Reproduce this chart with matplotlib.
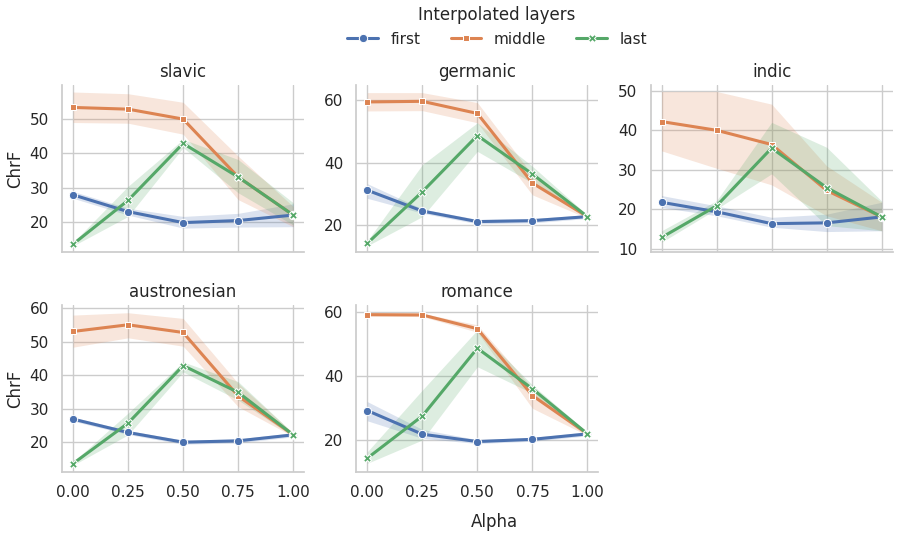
import numpy as np
import matplotlib
matplotlib.use("Agg")
import matplotlib.pyplot as plt
import seaborn as sns

# x values (interpolation weight)
alpha = [0.0, 0.25, 0.5, 0.75, 1.0]
layers = ["first", "middle", "last"]
facets = ["slavic", "germanic", "indic", "austronesian", "romance"]

# mean ChrF per layer, plus lower / upper confidence bounds
slavic_mean = {"first": [27.9, 23.0, 19.8, 20.4, 22.0],
               "middle": [53.4, 52.9, 50.0, 33.1, 22.0],
               "last": [13.5, 26.3, 42.9, 33.1, 22.0]}
slavic_lo = {"first": [26.9, 22.0, 18.2, 18.5, 18.6],
             "middle": [49.0, 48.8, 45.6, 26.5, 18.6],
             "last": [13.0, 21.6, 41.7, 28.5, 19.1]}
slavic_hi = {"first": [28.9, 24.0, 21.6, 22.5, 25.3],
             "middle": [57.9, 57.4, 54.9, 39.2, 24.5],
             "last": [14.0, 30.4, 44.1, 38.2, 25.6]}

germanic_mean = {"first": [31.1, 24.4, 21.0, 21.3, 22.6],
                 "middle": [59.5, 59.7, 55.8, 33.4, 22.6],
                 "last": [14.0, 30.6, 48.7, 36.3, 22.6]}
germanic_lo = {"first": [28.5, 23.7, 20.3, 20.6, 22.0],
               "middle": [56.6, 56.7, 52.8, 29.6, 22.1],
               "last": [13.2, 22.6, 43.6, 33.4, 22.1]}
germanic_hi = {"first": [33.2, 25.1, 21.7, 22.0, 23.2],
               "middle": [62.5, 62.5, 59.3, 36.1, 23.1],
               "last": [14.8, 39.3, 52.8, 38.8, 23.1]}

indic_mean = {"first": [21.8, 19.4, 16.4, 16.6, 18.1],
              "middle": [42.2, 40.0, 36.4, 24.8, 18.1],
              "last": [12.9, 20.9, 35.5, 25.5, 18.1]}
indic_lo = {"first": [20.5, 18.4, 15.5, 14.4, 14.6],
            "middle": [34.8, 30.4, 26.2, 18.4, 14.6],
            "last": [11.7, 20.1, 29.0, 15.9, 14.6]}
indic_hi = {"first": [23.5, 20.9, 18.0, 18.8, 21.8],
            "middle": [49.8, 49.8, 46.6, 31.0, 21.8],
            "last": [14.6, 22.2, 42.0, 35.7, 22.1]}

austronesian_mean = {"first": [26.9, 22.9, 20.0, 20.4, 22.2],
                     "middle": [53.1, 55.1, 52.8, 33.8, 22.2],
                     "last": [13.6, 25.7, 42.9, 34.9, 22.2]}
austronesian_lo = {"first": [26.3, 22.3, 19.4, 19.8, 21.6],
                   "middle": [48.4, 51.2, 48.7, 30.6, 21.7],
                   "last": [13.1, 22.2, 41.0, 32.6, 21.7]}
austronesian_hi = {"first": [27.5, 23.5, 20.6, 21.0, 22.8],
                   "middle": [58.0, 58.7, 57.0, 37.6, 22.7],
                   "last": [14.1, 28.7, 44.0, 38.1, 22.7]}

romance_mean = {"first": [29.2, 21.8, 19.5, 20.2, 21.9],
                "middle": [59.2, 59.1, 54.8, 33.9, 21.9],
                "last": [14.3, 27.5, 48.7, 36.0, 21.9]}
romance_lo = {"first": [26.0, 20.5, 18.9, 19.6, 21.3],
              "middle": [58.7, 58.6, 53.7, 29.9, 21.4],
              "last": [12.7, 20.0, 42.9, 34.6, 21.4]}
romance_hi = {"first": [32.0, 23.3, 20.1, 20.8, 22.5],
              "middle": [59.7, 59.6, 56.0, 36.2, 22.4],
              "last": [16.3, 35.6, 54.4, 37.2, 22.4]}

# y tick values and y range shown per facet
facet_yticks = [[20, 30, 40, 50], [20, 40, 60], [10, 20, 30, 40, 50],
                [20, 30, 40, 50, 60], [20, 40, 60]]
facet_ylim = [(11.3, 59.9), (11.3, 64.9), (9.3, 51.4), (11.2, 61.0), (10.1, 62.2)]

means = [slavic_mean, germanic_mean, indic_mean, austronesian_mean, romance_mean]
lows = [slavic_lo, germanic_lo, indic_lo, austronesian_lo, romance_lo]
highs = [slavic_hi, germanic_hi, indic_hi, austronesian_hi, romance_hi]

sns.set_theme(style="whitegrid")
plt.rcParams["font.family"] = ["DejaVu Sans"]
colors = sns.color_palette("deep")
layer_color = {"first": colors[0], "middle": colors[1], "last": colors[2]}
layer_marker = {"first": "o", "middle": "s", "last": "X"}
layer_msize = {"first": 6, "middle": 5, "last": 6}

fig, axes = plt.subplots(2, 3, figsize=(8.99, 5.39), dpi=100, sharex=True)
fig.subplots_adjust(left=0.069, right=0.993, top=0.842, bottom=0.125,
                    wspace=0.215, hspace=0.32)

for i, ax in enumerate(axes.flat):
    if i >= len(facets):
        ax.axis("off")
        continue
    for layer in layers:
        c = layer_color[layer]
        ax.fill_between(alpha, lows[i][layer], highs[i][layer], color=c,
                        alpha=0.2, linewidth=0)
        ax.plot(alpha, means[i][layer], color=c, lw=2.2,
                marker=layer_marker[layer], ms=layer_msize[layer],
                mec="white", mew=0.75, label=layer)
    ax.set_title(facets[i], fontsize=12)
    ax.set_xticks(alpha)
    ax.set_yticks(facet_yticks[i])
    ax.set_ylim(*facet_ylim[i])
    ax.tick_params(labelsize=11)
    sns.despine(ax=ax)
    if i % 3 == 0:
        ax.set_ylabel("ChrF", fontsize=12)
    if i <= 2:
        ax.tick_params(labelbottom=False)

axes[1, 0].set_xticklabels(["0.00", "0.25", "0.50", "0.75", "1.00"])
axes[1, 1].set_xticklabels(["0.00", "0.25", "0.50", "0.75", "1.00"])

fig.supxlabel("Alpha", fontsize=12, x=0.55, y=0.015)

handles, labels = axes[0, 0].get_legend_handles_labels()
fig.legend(handles, labels, loc="upper center", bbox_to_anchor=(0.553, 1.014),
           ncol=3, frameon=False, title="Interpolated layers",
           fontsize=11, title_fontsize=12)

fig.savefig("out.png", dpi=100)
